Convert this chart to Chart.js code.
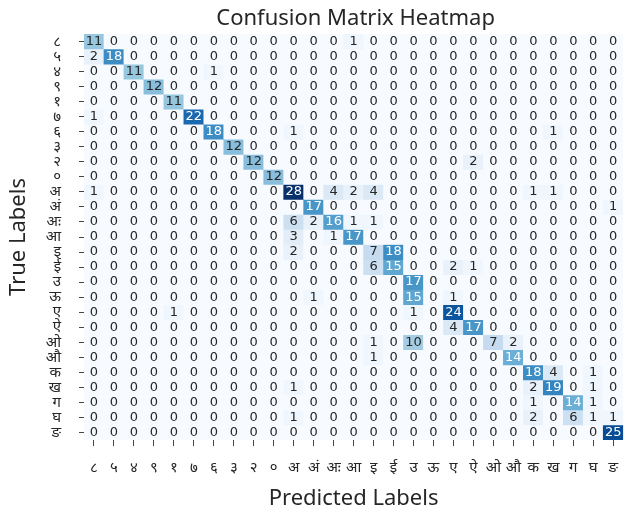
<!DOCTYPE html>
<html>
<head>
<meta charset="utf-8">
<script src="https://cdn.jsdelivr.net/npm/chart.js@4.4.1/dist/chart.umd.min.js"></script>
<style>
  html, body { margin: 0; padding: 0; background: #fff; }
  #wrap { width: 631px; height: 520px; }
</style>
</head>
<body>
<div id="wrap"><canvas id="cm"></canvas></div>
<script>
// class names (same order on both axes)
const classLabels = ['८','५','४','९','१','७','६','३','२','०','अ','अं','अः','आ','इ','ई','उ','ऊ','ए','ऐ','ओ','औ','क','ख','ग','घ','ङ'];

// counts: row = true label, column = predicted label
const counts = [
  [11,0,0,0,0,0,0,0,0,0,  0,0,0,1,0,0,0,0,0,0,  0,0,0,0,0,0,0],
  [2,18,0,0,0,0,0,0,0,0,  0,0,0,0,0,0,0,0,0,0,  0,0,0,0,0,0,0],
  [0,0,11,0,0,0,1,0,0,0,  0,0,0,0,0,0,0,0,0,0,  0,0,0,0,0,0,0],
  [0,0,0,12,0,0,0,0,0,0,  0,0,0,0,0,0,0,0,0,0,  0,0,0,0,0,0,0],
  [0,0,0,0,11,0,0,0,0,0,  0,0,0,0,0,0,0,0,0,0,  0,0,0,0,0,0,0],
  [1,0,0,0,0,22,0,0,0,0,  0,0,0,0,0,0,0,0,0,0,  0,0,0,0,0,0,0],
  [0,0,0,0,0,0,18,0,0,0,  1,0,0,0,0,0,0,0,0,0,  0,0,0,1,0,0,0],
  [0,0,0,0,0,0,0,12,0,0,  0,0,0,0,0,0,0,0,0,0,  0,0,0,0,0,0,0],
  [0,0,0,0,0,0,0,0,12,0,  0,0,0,0,0,0,0,0,0,2,  0,0,0,0,0,0,0],
  [0,0,0,0,0,0,0,0,0,12,  0,0,0,0,0,0,0,0,0,0,  0,0,0,0,0,0,0],
  [1,0,0,0,0,0,0,0,0,0,  28,0,4,2,4,0,0,0,0,0,  0,0,1,1,0,0,0],
  [0,0,0,0,0,0,0,0,0,0,  0,17,0,0,0,0,0,0,0,0,  0,0,0,0,0,0,1],
  [0,0,0,0,0,0,0,0,0,0,  6,2,16,1,1,0,0,0,0,0,  0,0,0,0,0,0,0],
  [0,0,0,0,0,0,0,0,0,0,  3,0,1,17,0,0,0,0,0,0,  0,0,0,0,0,0,0],
  [0,0,0,0,0,0,0,0,0,0,  2,0,0,0,7,18,0,0,0,0,  0,0,0,0,0,0,0],
  [0,0,0,0,0,0,0,0,0,0,  0,0,0,0,6,15,0,0,2,1,  0,0,0,0,0,0,0],
  [0,0,0,0,0,0,0,0,0,0,  0,0,0,0,0,0,17,0,0,0,  0,0,0,0,0,0,0],
  [0,0,0,0,0,0,0,0,0,0,  0,1,0,0,0,0,15,0,1,0,  0,0,0,0,0,0,0],
  [0,0,0,0,1,0,0,0,0,0,  0,0,0,0,0,0,1,0,24,0,  0,0,0,0,0,0,0],
  [0,0,0,0,0,0,0,0,0,0,  0,0,0,0,0,0,0,0,4,17,  0,0,0,0,0,0,0],
  [0,0,0,0,0,0,0,0,0,0,  0,0,0,0,1,0,10,0,0,0,  7,2,0,0,0,0,0],
  [0,0,0,0,0,0,0,0,0,0,  0,0,0,0,1,0,0,0,0,0,  0,14,0,0,0,0,0],
  [0,0,0,0,0,0,0,0,0,0,  0,0,0,0,0,0,0,0,0,0,  0,0,18,4,0,1,0],
  [0,0,0,0,0,0,0,0,0,0,  1,0,0,0,0,0,0,0,0,0,  0,0,2,19,0,1,0],
  [0,0,0,0,0,0,0,0,0,0,  0,0,0,0,0,0,0,0,0,0,  0,0,1,0,14,1,0],
  [0,0,0,0,0,0,0,0,0,0,  1,0,0,0,0,0,0,0,0,0,  0,0,2,0,6,1,1],
  [0,0,0,0,0,0,0,0,0,0,  0,0,0,0,0,0,0,0,0,0,  0,0,0,0,0,0,25]
];

// matplotlib "Blues"
const blues = ['#f7fbff','#deebf7','#c6dbef','#9ecae1','#6baed6','#4292c6','#2171b5','#08519c','#08306b'];
const vmax = Math.max(...counts.flat());

function hexRgb(h) {
    return [parseInt(h.slice(1,3),16), parseInt(h.slice(3,5),16), parseInt(h.slice(5,7),16)];
}
function cmap(v) {
    const t = Math.min(1, Math.max(0, v / vmax)) * (blues.length - 1);
    const i = Math.min(blues.length - 2, Math.floor(t));
    const f = t - i;
    const a = hexRgb(blues[i]), b = hexRgb(blues[i + 1]);
    return a.map((c, k) => Math.round(c + (b[k] - c) * f));
}
function luminance(rgb) {
    const l = rgb.map(c => {
        c = c / 255;
        return c <= 0.03928 ? c / 12.92 : Math.pow((c + 0.055) / 1.055, 2.4);
    });
    return 0.2126 * l[0] + 0.7152 * l[1] + 0.0722 * l[2];
}

// one stacked dataset per true-label row, each cell one unit tall
const datasets = counts.map((row, r) => ({
    label: classLabels[r],
    data: row.map(() => 1),
    counts: row,
    backgroundColor: row.map(v => 'rgb(' + cmap(v).join(',') + ')'),
    borderWidth: 0,
    barPercentage: 1.0,
    categoryPercentage: 1.0
}));

const cellText = {
    id: 'cellText',
    afterDatasetsDraw(chart) {
        const ctx = chart.ctx;
        ctx.save();
        ctx.font = '13px "DejaVu Sans", sans-serif';
        ctx.textAlign = 'center';
        ctx.textBaseline = 'middle';
        chart.data.datasets.forEach((ds, i) => {
            chart.getDatasetMeta(i).data.forEach((bar, j) => {
                const v = ds.counts[j];
                ctx.fillStyle = luminance(cmap(v)) > 0.408 ? '#262626' : '#ffffff';
                ctx.fillText(String(v), bar.x, (bar.y + bar.base) / 2);
            });
        });
        ctx.restore();
    }
};

const heatTitle = {
    id: 'heatTitle',
    afterDraw(chart) {
        const ctx = chart.ctx, area = chart.chartArea;
        ctx.save();
        ctx.font = '22px "Noto Sans", sans-serif';
        ctx.fillStyle = '#262626';
        ctx.textAlign = 'center';
        ctx.textBaseline = 'middle';
        ctx.fillText('Confusion Matrix Heatmap', (area.left + area.right) / 2 + 2, 19);
        ctx.restore();
    }
};

new Chart(document.getElementById('cm'), {
    type: 'bar',
    data: { labels: classLabels, datasets: datasets },
    options: {
        responsive: true,
        maintainAspectRatio: false,
        animation: false,
        layout: { padding: { top: 34, right: 0, bottom: 0, left: 0 } },
        plugins: {
            legend: { display: false },
            tooltip: { enabled: false },
            title: { display: false }
        },
        scales: {
            x: {
                stacked: true,
                offset: true,
                grid: { drawOnChartArea: false, offset: false, tickLength: 6, color: '#444' },
                border: { display: false },
                ticks: {
                    autoSkip: false, maxRotation: 0, padding: 13, color: '#262626',
                    font: { size: 15, family: '"Noto Sans", "DejaVu Sans", sans-serif' }
                },
                title: {
                    display: true, text: 'Predicted Labels', color: '#262626',
                    padding: { top: 4, bottom: 8 },
                    font: { size: 22, family: '"Noto Sans", sans-serif' }
                },
                afterFit: s => { s.height = 80; }
            },
            y: {
                stacked: true,
                display: false,
                reverse: true,
                min: 0,
                max: classLabels.length
            },
            yl: {
                type: 'category',
                position: 'left',
                labels: classLabels,
                offset: true,
                grid: { drawOnChartArea: false, offset: false, tickLength: 5, color: '#444' },
                border: { display: false },
                ticks: {
                    autoSkip: false, padding: 18, color: '#262626',
                    font: { size: 15, family: '"Noto Sans", "DejaVu Sans", sans-serif' }
                },
                title: {
                    display: true, text: 'True Labels', color: '#262626',
                    padding: { top: 6, bottom: 0 },
                    font: { size: 22, family: '"Noto Sans", sans-serif' }
                },
                afterFit: s => { s.width = 84; }
            }
        }
    },
    plugins: [cellText, heatTitle]
});
</script>
</body>
</html>
